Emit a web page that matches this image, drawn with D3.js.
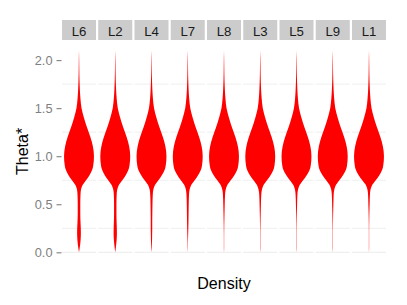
<!DOCTYPE html>
<html><head><meta charset="utf-8">
<script src="https://cdn.jsdelivr.net/npm/d3@7"></script>
<style>body{margin:0;background:#fff}svg{display:block}</style>
</head><body>
<script>
const levels = ["L6","L2","L4","L7","L8","L3","L5","L9","L1"];
const yTicks = [0, 0.5, 1.0, 1.5, 2.0];
const yMinor = [0.25, 0.75, 1.25, 1.75];
const thetaGrid = [0, 0.05, 0.1, 0.15, 0.2, 0.25, 0.3, 0.4, 0.5, 0.6, 0.65, 0.7, 0.75, 0.8, 0.85, 0.9, 1.0, 1.1, 1.2, 1.25, 1.3, 1.4, 1.5, 1.6, 1.7, 1.8, 1.9, 2.0, 2.1];
// relative density (half-width, max = 1) at each thetaGrid value
const densL6 = [0, 0.05, 0.09, 0.115, 0.125, 0.12, 0.105, 0.085, 0.085, 0.10, 0.13, 0.24, 0.47, 0.69, 0.86, 0.95, 1.0, 0.93, 0.76, 0.65, 0.53, 0.33, 0.17, 0.095, 0.055, 0.032, 0.02, 0.012, 0];
const densL2 = [0, 0.04, 0.075, 0.10, 0.11, 0.105, 0.095, 0.08, 0.08, 0.095, 0.13, 0.24, 0.47, 0.69, 0.86, 0.95, 1.0, 0.93, 0.76, 0.65, 0.53, 0.33, 0.17, 0.095, 0.055, 0.032, 0.02, 0.012, 0];
const densL4 = [0, 0.02, 0.03, 0.04, 0.045, 0.05, 0.05, 0.055, 0.065, 0.085, 0.12, 0.23, 0.46, 0.68, 0.86, 0.95, 1.0, 0.93, 0.76, 0.65, 0.53, 0.33, 0.17, 0.095, 0.055, 0.032, 0.02, 0.012, 0];
const densL7 = [0, 0.01, 0.013, 0.02, 0.03, 0.038, 0.045, 0.055, 0.065, 0.085, 0.12, 0.23, 0.46, 0.68, 0.86, 0.95, 1.0, 0.93, 0.76, 0.65, 0.53, 0.33, 0.17, 0.095, 0.055, 0.032, 0.02, 0.012, 0];
const densL8 = [0, 0.01, 0.01, 0.01, 0.012, 0.015, 0.02, 0.033, 0.048, 0.07, 0.11, 0.22, 0.45, 0.68, 0.86, 0.95, 1.0, 0.93, 0.76, 0.65, 0.53, 0.33, 0.17, 0.095, 0.055, 0.032, 0.02, 0.012, 0];
const densL3 = [0, 0.01, 0.01, 0.01, 0.011, 0.013, 0.018, 0.03, 0.045, 0.068, 0.11, 0.22, 0.45, 0.68, 0.86, 0.95, 1.0, 0.93, 0.76, 0.65, 0.53, 0.33, 0.17, 0.095, 0.055, 0.032, 0.02, 0.012, 0];
const densL5 = [0, 0.01, 0.01, 0.01, 0.01, 0.011, 0.014, 0.024, 0.04, 0.06, 0.10, 0.21, 0.44, 0.67, 0.86, 0.95, 1.0, 0.93, 0.76, 0.65, 0.53, 0.33, 0.17, 0.095, 0.055, 0.032, 0.02, 0.012, 0];
const densL9 = [0, 0.01, 0.01, 0.01, 0.01, 0.012, 0.015, 0.026, 0.042, 0.062, 0.10, 0.21, 0.44, 0.67, 0.86, 0.95, 1.0, 0.93, 0.76, 0.65, 0.53, 0.33, 0.17, 0.095, 0.055, 0.032, 0.02, 0.012, 0];
const densL1 = [0, 0.01, 0.01, 0.01, 0.01, 0.011, 0.014, 0.025, 0.043, 0.063, 0.10, 0.21, 0.45, 0.68, 0.86, 0.95, 1.0, 0.93, 0.76, 0.65, 0.53, 0.33, 0.17, 0.095, 0.055, 0.032, 0.02, 0.012, 0];
const densities = {L6: densL6, L2: densL2, L4: densL4, L7: densL7, L8: densL8, L3: densL3, L5: densL5, L9: densL9, L1: densL1};

const W = 407, H = 305;
const font = "'Liberation Sans', Arial, Helvetica, sans-serif";
const svg = d3.select("body").append("svg").attr("width", W).attr("height", H);

const x = d3.scaleBand().domain(levels).range([62, 386]).paddingInner(0.062).paddingOuter(0);
const y = d3.scaleLinear().domain([-0.105, 2.205]).range([262.4, 40.4]);
const w = d3.scaleLinear().domain([0, 1]).range([0, x.bandwidth() * 0.44]);

const panels = svg.selectAll("g.panel").data(levels).enter().append("g")
  .attr("class", "panel").attr("transform", d => `translate(${x(d)},0)`);

// grid lines
panels.each(function() {
  const g = d3.select(this);
  g.selectAll("line.minor").data(yMinor).enter().append("line")
    .attr("x1", 0).attr("x2", x.bandwidth())
    .attr("y1", d => y(d)).attr("y2", d => y(d))
    .attr("stroke", "#efefef").attr("stroke-width", 1);
  g.append("line")
    .attr("x1", 0).attr("x2", x.bandwidth())
    .attr("y1", y(0)).attr("y2", y(0))
    .attr("stroke", "#ebebeb").attr("stroke-width", 1);
});

// strips
panels.append("rect").attr("x", 0).attr("y", 20).attr("width", x.bandwidth()).attr("height", 20).attr("fill", "#cccccc");
panels.append("text").attr("x", x.bandwidth() / 2).attr("y", 35.5).attr("text-anchor", "middle")
  .attr("font-family", font).attr("font-size", "13.2px").attr("fill", "#1a1a1a").text(d => d);

// violins
const area = d3.area()
  .y(d => y(d.t))
  .x0(d => x.bandwidth() / 2 - w(d.v))
  .x1(d => x.bandwidth() / 2 + w(d.v))
  .curve(d3.curveMonotoneY);
panels.append("path")
  .attr("d", lv => area(thetaGrid.map((t, i) => ({t: t, v: densities[lv][i]}))))
  .attr("fill", "#ff0000");

// y axis
const axis = d3.axisLeft(y).tickValues(yTicks).tickFormat(d3.format(".1f")).tickSize(5).tickPadding(4);
const ga = svg.append("g").attr("transform", "translate(61.5,0)").call(axis);
ga.select(".domain").remove();
ga.selectAll(".tick line").attr("stroke", "#7f7f7f").attr("stroke-width", 1.1);
ga.selectAll(".tick text").attr("fill", "#7f7f7f").attr("font-family", font).attr("font-size", "12.8px");

// titles
svg.append("text").attr("transform", "translate(28,151.4) rotate(-90)").attr("text-anchor", "middle")
  .attr("font-family", font).attr("font-size", "16px").attr("fill", "#000").text("Theta*");
svg.append("text").attr("x", 224).attr("y", 289).attr("text-anchor", "middle")
  .attr("font-family", font).attr("font-size", "16px").attr("fill", "#000").text("Density");
</script>
</body></html>
